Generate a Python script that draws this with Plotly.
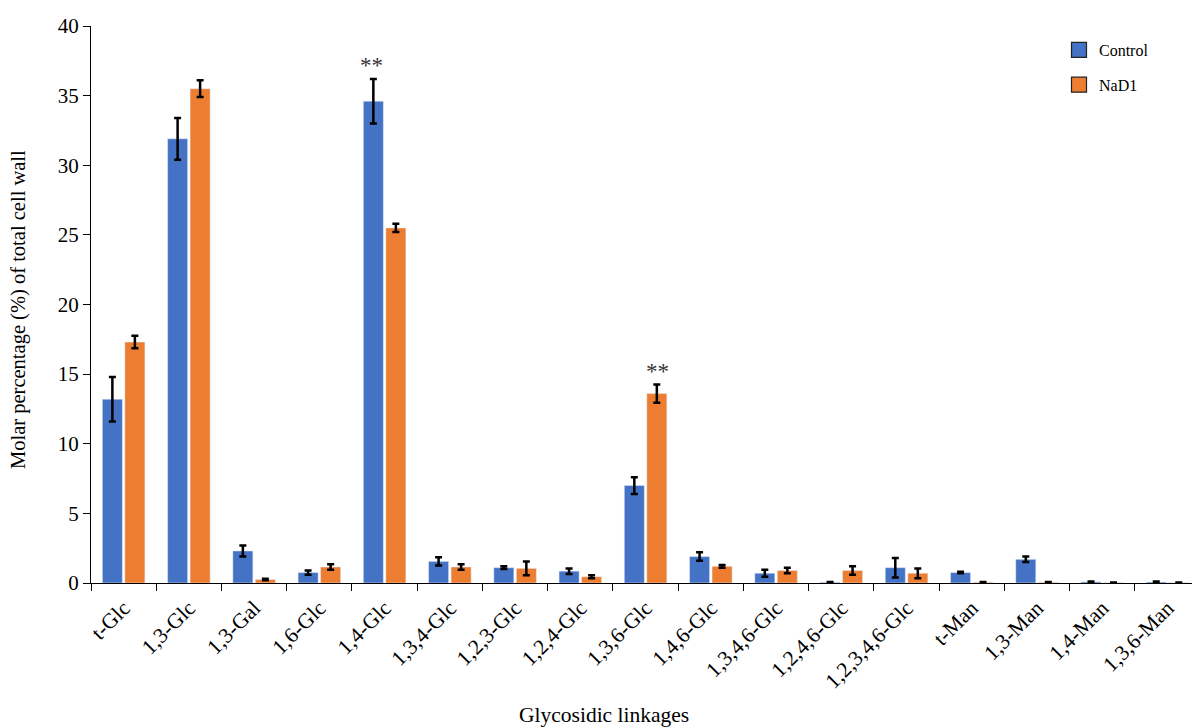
import plotly.graph_objects as go

categories = ["t-Glc", "1,3-Glc", "1,3-Gal", "1,6-Glc", "1,4-Glc", "1,3,4-Glc",
              "1,2,3-Glc", "1,2,4-Glc", "1,3,6-Glc", "1,4,6-Glc", "1,3,4,6-Glc",
              "1,2,4,6-Glc", "1,2,3,4,6-Glc", "t-Man", "1,3-Man", "1,4-Man", "1,3,6-Man"]
control = [13.2, 31.9, 2.3, 0.75, 34.6, 1.55, 1.1, 0.85, 7.0, 1.9, 0.7, 0.05, 1.1, 0.75, 1.7, 0.08, 0.07]
control_err = [1.6, 1.5, 0.4, 0.15, 1.6, 0.3, 0.1, 0.2, 0.6, 0.3, 0.25, 0.03, 0.7, 0.05, 0.2, 0.03, 0.03]
nad1 = [17.3, 35.5, 0.25, 1.15, 25.5, 1.15, 1.05, 0.45, 13.6, 1.2, 0.9, 0.9, 0.7, 0.05, 0.05, 0.02, 0.02]
nad1_err = [0.45, 0.6, 0.05, 0.2, 0.3, 0.2, 0.5, 0.1, 0.65, 0.1, 0.2, 0.3, 0.35, 0.02, 0.02, 0.01, 0.01]

# significance marks: (category, series, label)
signif = [("1,4-Glc", "Control", "**"), ("1,3,6-Glc", "NaD1", "**")]

BLUE = "#4472C4"
ORANGE = "#ED7D31"
FONT = "Liberation Serif"

fig = go.Figure()
err_style = dict(type="data", thickness=2.5, width=3.5, color="black")
fig.add_trace(go.Bar(x=categories, y=control, name="Control", marker_color=BLUE,
                     error_y=dict(array=control_err, **err_style), showlegend=False))
fig.add_trace(go.Bar(x=categories, y=nad1, name="NaD1", marker_color=ORANGE,
                     error_y=dict(array=nad1_err, **err_style), showlegend=False))

# legend entries
for nm, col, grp in [("Control", BLUE, "a"), ("NaD1", ORANGE, "b")]:
    fig.add_trace(go.Scatter(x=[None], y=[None], mode="markers", name=nm, legendgroup=grp,
                             marker=dict(symbol="square", size=15, color=col,
                                         line=dict(color="#222222", width=1.2))))

series = {"Control": (control, control_err, -13), "NaD1": (nad1, nad1_err, 12)}
for cat, s, lab in signif:
    vals, errs, dx = series[s]
    i = categories.index(cat)
    fig.add_annotation(x=cat, y=vals[i] + errs[i], text=lab, showarrow=False,
                       xshift=dx, yshift=13, font=dict(family=FONT, size=23, color="#333333"))

# axis titles as annotations
fig.add_annotation(text="Glycosidic linkages", xref="paper", yref="paper",
                   x=(604 - 91) / 1101, y=(583 - 715) / 557, showarrow=False,
                   xanchor="center", yanchor="middle",
                   font=dict(family=FONT, size=21.5, color="black"))
fig.add_annotation(text="Molar percentage (%) of total cell wall", xref="paper", yref="paper",
                   x=(18 - 91) / 1101, y=(583 - 310) / 557, showarrow=False, textangle=-90,
                   xanchor="center", yanchor="middle",
                   font=dict(family=FONT, size=20.5, color="black"))

fig.update_layout(
    width=1192, height=727,
    margin=dict(l=91, r=0, t=26, b=144, autoexpand=False),
    paper_bgcolor="white", plot_bgcolor="white",
    barmode="group", bargap=0.31, bargroupgap=0.11,
    font=dict(family=FONT, size=18, color="black"),
    legend=dict(x=(1059 - 91) / 1101, y=1 - (33 - 26) / 557, xanchor="left", yanchor="top",
                font=dict(family=FONT, size=16, color="black"),
                tracegroupgap=11, bgcolor="rgba(0,0,0,0)"),
)
fig.update_xaxes(
    range=[-0.5, 16.375], showline=True, linecolor="black", linewidth=1,
    ticks="outside", ticklen=7, tickcolor="black", tickson="boundaries",
    tickangle=-45, tickfont=dict(family=FONT, size=21.5), automargin=False,
    ticklabelstandoff=3, showgrid=False,
)
fig.update_yaxes(
    range=[0, 40], dtick=5, showline=True, linecolor="black", linewidth=1,
    ticks="outside", ticklen=7, tickcolor="black",
    tickfont=dict(family=FONT, size=21), automargin=False,
    showgrid=False, zeroline=False,
)

fig.write_html("out.html", config={"displayModeBar": False},
               post_script="document.body.style.margin='0';document.body.style.overflow='hidden';")
